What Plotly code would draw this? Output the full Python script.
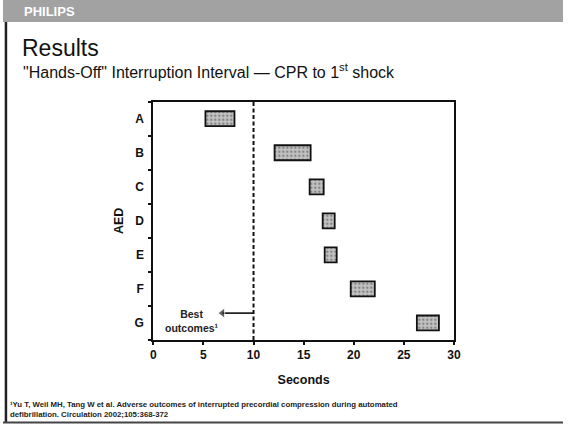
import plotly.graph_objects as go

# ---- data ----
aeds = ["A", "B", "C", "D", "E", "F", "G"]
q1 = [5.2, 12.1, 15.6, 16.9, 17.1, 19.7, 26.3]
q3 = [8.1, 15.7, 17.0, 18.1, 18.3, 22.1, 28.5]
x_ticks = [0, 5, 10, 15, 20, 25, 30]
best_threshold = 10
arrow_tip = 6.9

W, H = 570, 424
FONT = "Liberation Sans, Arial, sans-serif"

ypos = list(range(len(aeds)))
widths = [b - a for a, b in zip(q1, q3)]

fig = go.Figure()
fig.add_trace(go.Bar(
    y=ypos, x=widths, base=q1, orientation="h", width=0.44,
    marker=dict(color="#c4c4c4", line=dict(color="#111111", width=1.8),
                pattern=dict(shape=".", fgcolor="#444444", size=4, solidity=0.3)),
    hoverinfo="skip", showlegend=False,
))

fig.add_vline(x=best_threshold, line=dict(color="#111111", width=2, dash="4px,2.5px"))

# arrow "Best outcomes"
arrow_y = 5.71
fig.add_trace(go.Scatter(
    x=[arrow_tip, best_threshold], y=[arrow_y, arrow_y], mode="lines+markers",
    line=dict(color="#222222", width=1.6),
    marker=dict(symbol=["triangle-left", "circle"], size=[9, 0], color="#222222"),
    hoverinfo="skip", showlegend=False,
))
fig.add_annotation(x=3.9, y=5.93, xref="x", yref="y", text="<b>Best<br>outcomes¹</b>",
                   showarrow=False, font=dict(family=FONT, size=10.5, color="#222222"),
                   align="center")

def px_x(p):
    return p / W

def px_y(p):
    return 1 - p / H

# header banner
fig.add_shape(type="rect", xref="paper", yref="paper", x0=0, x1=1, y0=px_y(22), y1=1,
              fillcolor="#a2a2a2", line=dict(width=0), layer="below")
fig.add_annotation(x=px_x(19), y=px_y(12), xref="paper", yref="paper", xanchor="left",
                   yanchor="middle", text="<b>PHILIPS</b>", showarrow=False,
                   font=dict(family=FONT, size=13, color="white"))
# left and bottom borders
fig.add_shape(type="line", xref="paper", yref="paper", x0=px_x(3), x1=px_x(3),
              y0=px_y(423), y1=px_y(22), line=dict(color="#222222", width=2.5))
fig.add_shape(type="line", xref="paper", yref="paper", x0=0, x1=1,
              y0=px_y(422.5), y1=px_y(422.5), line=dict(color="#444444", width=2))

# titles
fig.add_annotation(x=px_x(17), y=px_y(48), xref="paper", yref="paper", xanchor="left",
                   yanchor="middle", text="Results", showarrow=False,
                   font=dict(family=FONT, size=23, color="#111111"))
fig.add_annotation(x=px_x(18), y=px_y(71), xref="paper", yref="paper", xanchor="left",
                   yanchor="middle",
                   text="\"Hands-Off\" Interruption Interval — CPR to 1<sup>st</sup> shock",
                   showarrow=False, font=dict(family=FONT, size=16, color="#111111"))
# footnote
fig.add_annotation(x=px_x(5), y=px_y(409.5), xref="paper", yref="paper", xanchor="left",
                   yanchor="middle", align="left",
                   text="<b>¹Yu T, Weil MH, Tang W et al. Adverse outcomes of interrupted precordial compression during automated<br>defibrillation. Circulation 2002;105:368-372</b>",
                   showarrow=False, font=dict(family=FONT, size=7.8, color="#222222"))

fig.update_layout(
    width=W, height=H, margin=dict(l=0, r=0, t=0, b=0),
    paper_bgcolor="white", plot_bgcolor="white",
    font=dict(family=FONT, color="#111111"),
    xaxis=dict(domain=[153 / W, 459 / W], range=[0, 30], tickvals=x_ticks,
               showgrid=False, zeroline=False, showline=True, linecolor="#111111",
               linewidth=2, mirror=True, ticks="outside", ticklen=3, tickwidth=1.5,
               tickcolor="#111111",
               tickfont=dict(family=FONT, size=12, color="#111111", weight="bold"),
               title=dict(text="<b>Seconds</b>", font=dict(family=FONT, size=12.5), standoff=14)),
    yaxis=dict(domain=[1 - 340 / H, 1 - 101.7 / H], range=[6.5, -0.5],
               tickvals=ypos, ticktext=aeds, ticks="", showgrid=False, zeroline=False,
               showline=True, linecolor="#111111", linewidth=2, mirror=True,
               tickfont=dict(family=FONT, size=12, color="#111111", weight="bold"),
               minor=dict(tick0=0.5, dtick=1, ticks="outside", ticklen=3, tickwidth=1.5,
                          tickcolor="#111111", showgrid=False),
               ticklabelstandoff=5,
               title=dict(text="<b>AED</b>", font=dict(family=FONT, size=12.5), standoff=8)),
)

fig.write_html("out.html", config={"displayModeBar": False},
               post_script="document.body.style.margin='0';document.body.style.overflow='hidden';")
